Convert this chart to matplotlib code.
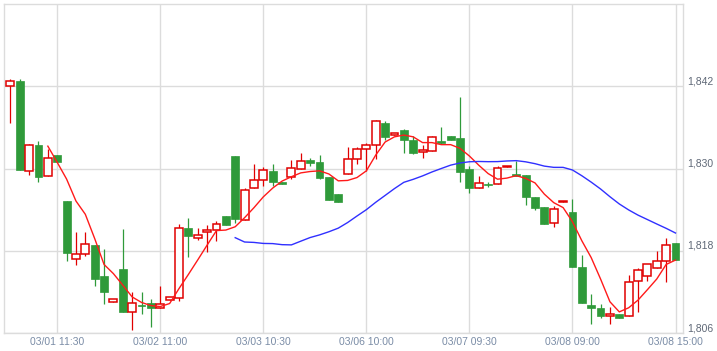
import numpy as np
import pandas as pd
import matplotlib
matplotlib.use("Agg")
import matplotlib.pyplot as plt
from matplotlib.patches import Rectangle
from matplotlib.ticker import FuncFormatter

opens = [1842.0, 1842.7, 1829.6, 1833.5, 1828.9, 1831.9, 1825.2, 1816.8, 1817.5, 1818.8,
         1814.3, 1810.5, 1815.3, 1809.0, 1810.0, 1810.4, 1809.6, 1810.8, 1811.1, 1821.3,
         1819.9, 1820.7, 1821.0, 1823.1, 1831.8, 1822.5, 1827.2, 1828.3, 1829.6, 1828.0,
         1828.7, 1830.0, 1831.2, 1830.9, 1828.7, 1826.3, 1829.2, 1831.4, 1832.9, 1833.4,
         1836.7, 1834.9, 1835.6, 1834.2, 1832.4, 1832.6, 1834.0, 1834.8, 1834.5, 1829.9,
         1827.2, 1827.8, 1827.7, 1830.2, 1829.2, 1829.0, 1825.9, 1824.4, 1822.0, 1825.1,
         1823.7, 1815.7, 1810.1, 1809.6, 1808.5, 1808.7, 1808.5, 1813.6, 1814.3, 1815.5,
         1816.5, 1819.1]
highs = [1843.1, 1843.1, 1833.6, 1834.0, 1832.8, 1831.9, 1825.2, 1820.8, 1820.7, 1818.8,
         1818.2, 1810.9, 1821.2, 1812.0, 1812.0, 1810.9, 1812.8, 1811.3, 1821.9, 1822.8,
         1821.3, 1821.7, 1822.4, 1823.1, 1831.8, 1827.2, 1830.6, 1830.2, 1830.6, 1828.0,
         1831.3, 1832.2, 1831.6, 1831.9, 1828.7, 1826.3, 1833.2, 1833.2, 1833.7, 1837.1,
         1836.9, 1835.2, 1835.7, 1834.8, 1833.4, 1834.8, 1836.0, 1834.8, 1840.5, 1830.3,
         1828.9, 1828.1, 1830.4, 1830.3, 1831.1, 1829.0, 1825.9, 1824.4, 1824.6, 1825.3,
         1825.6, 1817.4, 1811.7, 1810.3, 1809.8, 1808.7, 1814.5, 1815.5, 1816.1, 1817.9,
         1819.9, 1819.1]
lows = [1836.7, 1829.8, 1829.0, 1828.1, 1828.9, 1830.9, 1816.5, 1815.9, 1817.3, 1812.8,
        1810.3, 1810.5, 1809.0, 1806.4, 1808.7, 1806.9, 1809.6, 1810.8, 1810.6, 1817.1,
        1819.6, 1817.8, 1819.4, 1821.7, 1822.1, 1822.5, 1827.2, 1827.4, 1827.4, 1827.7,
        1828.4, 1830.0, 1830.3, 1828.5, 1825.4, 1825.1, 1829.2, 1830.7, 1829.7, 1831.4,
        1834.1, 1834.9, 1832.2, 1832.1, 1831.6, 1832.6, 1833.6, 1834.2, 1828.0, 1826.4,
        1827.2, 1827.3, 1827.7, 1830.2, 1828.9, 1824.7, 1824.0, 1821.9, 1821.4, 1825.1,
        1815.6, 1810.4, 1807.3, 1808.2, 1807.3, 1808.2, 1808.5, 1809.0, 1813.6, 1815.5,
        1813.4, 1816.6]
closes = [1842.7, 1829.8, 1833.5, 1828.7, 1831.6, 1830.9, 1817.6, 1817.5, 1819.0, 1813.9,
          1812.0, 1810.9, 1809.1, 1810.4, 1809.9, 1809.7, 1810.2, 1811.3, 1821.3, 1820.2,
          1820.3, 1821.0, 1821.9, 1821.7, 1822.6, 1826.9, 1828.3, 1829.8, 1828.1, 1827.7,
          1830.1, 1831.1, 1830.8, 1828.6, 1825.4, 1825.1, 1831.4, 1832.9, 1833.5, 1836.9,
          1834.6, 1835.2, 1834.2, 1832.2, 1832.7, 1834.6, 1833.7, 1834.2, 1829.5, 1827.1,
          1827.9, 1827.6, 1830.1, 1830.3, 1828.9, 1825.9, 1824.3, 1821.9, 1824.1, 1825.3,
          1815.6, 1810.4, 1809.6, 1808.5, 1808.7, 1808.2, 1813.4, 1815.2, 1816.1, 1816.5,
          1818.8, 1816.6]

tick_idx = [5, 16, 27, 38, 49, 60, 71]
tick_labels = ["03/01 11:30", "03/02 11:00", "03/03 10:30", "03/06 10:00",
               "03/07 09:30", "03/08 09:00", "03/08 15:00"]
y_ticks = [1806, 1818, 1830, 1842]

UP = "#e00000"
DOWN = "#2f9a3a"

plt.rcParams["font.family"] = ["Liberation Sans", "DejaVu Sans"]

fig = plt.figure(figsize=(7.17, 3.51), dpi=100)
ax = fig.add_axes([4 / 717, 18 / 351, 679 / 717, 329 / 351])

n = len(closes)
w = 0.84
for i in range(n):
    o, h, l, c = opens[i], highs[i], lows[i], closes[i]
    col = UP if c >= o else DOWN
    ax.plot([i, i], [l, h], color=col, lw=0.9, zorder=2, solid_capstyle="butt")
    bot = min(o, c)
    hgt = max(abs(c - o), 0.12)
    if c >= o:
        r = Rectangle((i - w / 2, bot), w, hgt, facecolor="white", edgecolor=UP, lw=1.1, zorder=3)
    else:
        r = Rectangle((i - w / 2, bot), w, hgt, facecolor=DOWN, edgecolor=DOWN, lw=0.5, zorder=3)
    ax.add_patch(r)

# moving averages of the closes
s = pd.Series(closes)
ma5 = s.rolling(5).mean()
ma25 = s.rolling(25).mean()
x = np.arange(n)
ax.plot(x, ma5, color="#ff1a1a", lw=1.0, zorder=4)
ax.plot(x, ma25, color="#3030ff", lw=1.0, zorder=4)

ax.set_xlim(-0.68, 71.8)
ax.set_ylim(1806, 1854)
ax.set_xticks(tick_idx)
ax.set_xticklabels(tick_labels)
ax.set_yticks(y_ticks)
ax.yaxis.set_major_formatter(FuncFormatter(lambda v, p: f"{int(v):,}"))
ax.yaxis.tick_right()
ax.grid(True, color="#dcdcdc", lw=1.0, zorder=0)
ax.set_axisbelow(True)
ax.tick_params(axis="both", length=0, labelsize=7.5)
ax.tick_params(axis="x", pad=3, labelcolor="#7a8ca6")
ax.tick_params(axis="y", pad=3, labelcolor="#5f6877")
for lab in ax.get_yticklabels():
    lab.set_verticalalignment("bottom")
for sp in ax.spines.values():
    sp.set_color("#dcdcdc")
    sp.set_linewidth(1.0)

fig.savefig("out.png", dpi=100)
